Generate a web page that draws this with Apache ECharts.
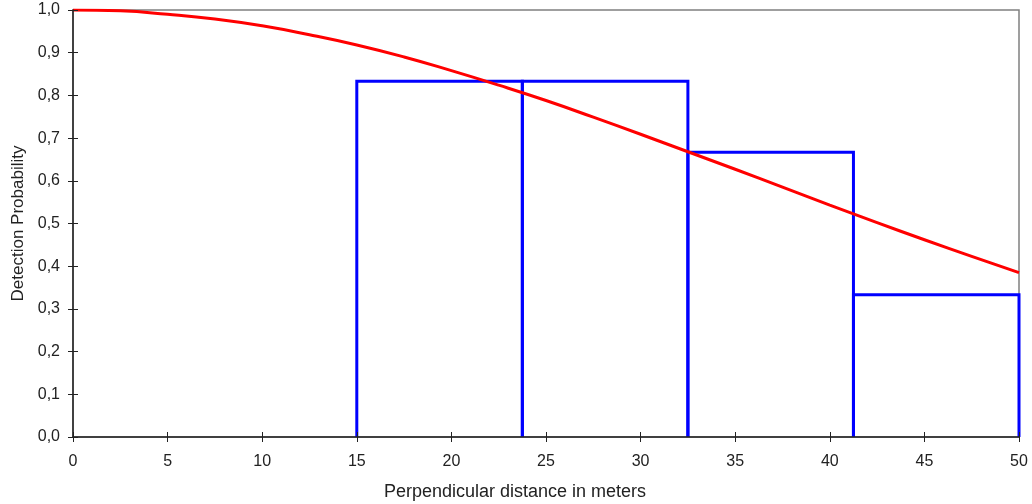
<!DOCTYPE html>
<html><head><meta charset="utf-8">
<script src="https://cdn.jsdelivr.net/npm/echarts@6/dist/echarts.min.js"></script>
<style>html,body{margin:0;padding:0;background:#fff}#c{width:1032px;height:504px}</style>
</head><body><div id="c"></div>
<script>
const curveX = [0,2.5,5,7.5,10,12.5,15,17.5,20,22.5,25,27.5,30,32.5,35,37.5,40,42.5,45,47.5,50];
const curveY = [1.000,0.998,0.990,0.979,0.963,0.942,0.918,0.890,0.858,0.824,0.788,0.749,0.709,0.668,0.627,0.585,0.543,0.502,0.462,0.423,0.385];
const binStart = [15,23.75,32.5,41.25];
const binEnd = [23.75,32.5,41.25,50];
const binHeight = [0.833,0.833,0.667,0.333];
const xTicks = [0,5,10,15,20,25,30,35,40,45,50];
const yTicks = [0,0.1,0.2,0.3,0.4,0.5,0.6,0.7,0.8,0.9,1.0];

const font = 'Liberation Sans, Arial, sans-serif';
const chart = echarts.init(document.getElementById('c'));
const fmt = v => v.toFixed(1).replace('.', ',');
const grid = {left:73, right:13, top:10, bottom:67, containLabel:false, outerBoundsMode:'none',
  show:true, borderColor:'#808080', borderWidth:1.5, backgroundColor:'#fff'};
chart.setOption({
  animation:false,
  grid:[grid, Object.assign({}, grid, {show:false})],
  xAxis:[{
    type:'value', min:0, max:50, interval:5, gridIndex:0,
    name:'Perpendicular distance in meters', nameLocation:'middle', nameGap:46,
    nameTextStyle:{color:'#222', fontSize:18, fontFamily:font, padding:[0,62,0,0]},
    axisLine:{lineStyle:{color:'#222', width:1.5}},
    axisTick:{length:5, lineStyle:{color:'#222'}},
    axisLabel:{color:'#222', fontSize:16, fontFamily:font, margin:17},
    splitLine:{show:false}, z:5
  },{
    type:'value', min:0, max:50, interval:5, gridIndex:1, position:'bottom',
    axisLine:{show:false}, axisTick:{show:true, inside:true, length:5, lineStyle:{color:'#222'}},
    axisLabel:{show:false}, splitLine:{show:false}, z:5
  }],
  yAxis:[{
    type:'value', min:0, max:1, interval:0.1, gridIndex:0,
    name:'Detection Probability', nameLocation:'middle', nameGap:46,
    nameTextStyle:{color:'#222', fontSize:17, fontFamily:font},
    axisLine:{show:true, lineStyle:{color:'#222', width:1.5}},
    axisTick:{show:true, length:5, lineStyle:{color:'#222'}},
    axisLabel:{color:'#222', fontSize:16, fontFamily:font, margin:13, formatter:fmt},
    splitLine:{show:false}, z:5
  },{
    type:'value', min:0, max:1, interval:0.1, gridIndex:1, position:'left',
    axisLine:{show:false}, axisTick:{show:true, inside:true, length:5, lineStyle:{color:'#222'}},
    axisLabel:{show:false}, splitLine:{show:false}, z:5
  }],
  series:[{
    type:'custom', xAxisIndex:0, yAxisIndex:0,
    data: binStart.map((s,i)=>[s, binEnd[i], binHeight[i]]),
    renderItem:(params, api)=>{
      const a = api.coord([api.value(0), 0]);
      const b = api.coord([api.value(0), api.value(2)]);
      const c = api.coord([api.value(1), api.value(2)]);
      const d = api.coord([api.value(1), 0]);
      return {type:'polyline', shape:{points:[a,b,c,d]},
        style:{fill:'none', stroke:'#0000ff', lineWidth:3}};
    },
    z:2
  },{
    type:'line', xAxisIndex:0, yAxisIndex:0, smooth:true, showSymbol:false,
    data: curveX.map((x,i)=>[x, curveY[i]]),
    lineStyle:{color:'#ff0000', width:3}, z:3
  }]
});
</script></body></html>
